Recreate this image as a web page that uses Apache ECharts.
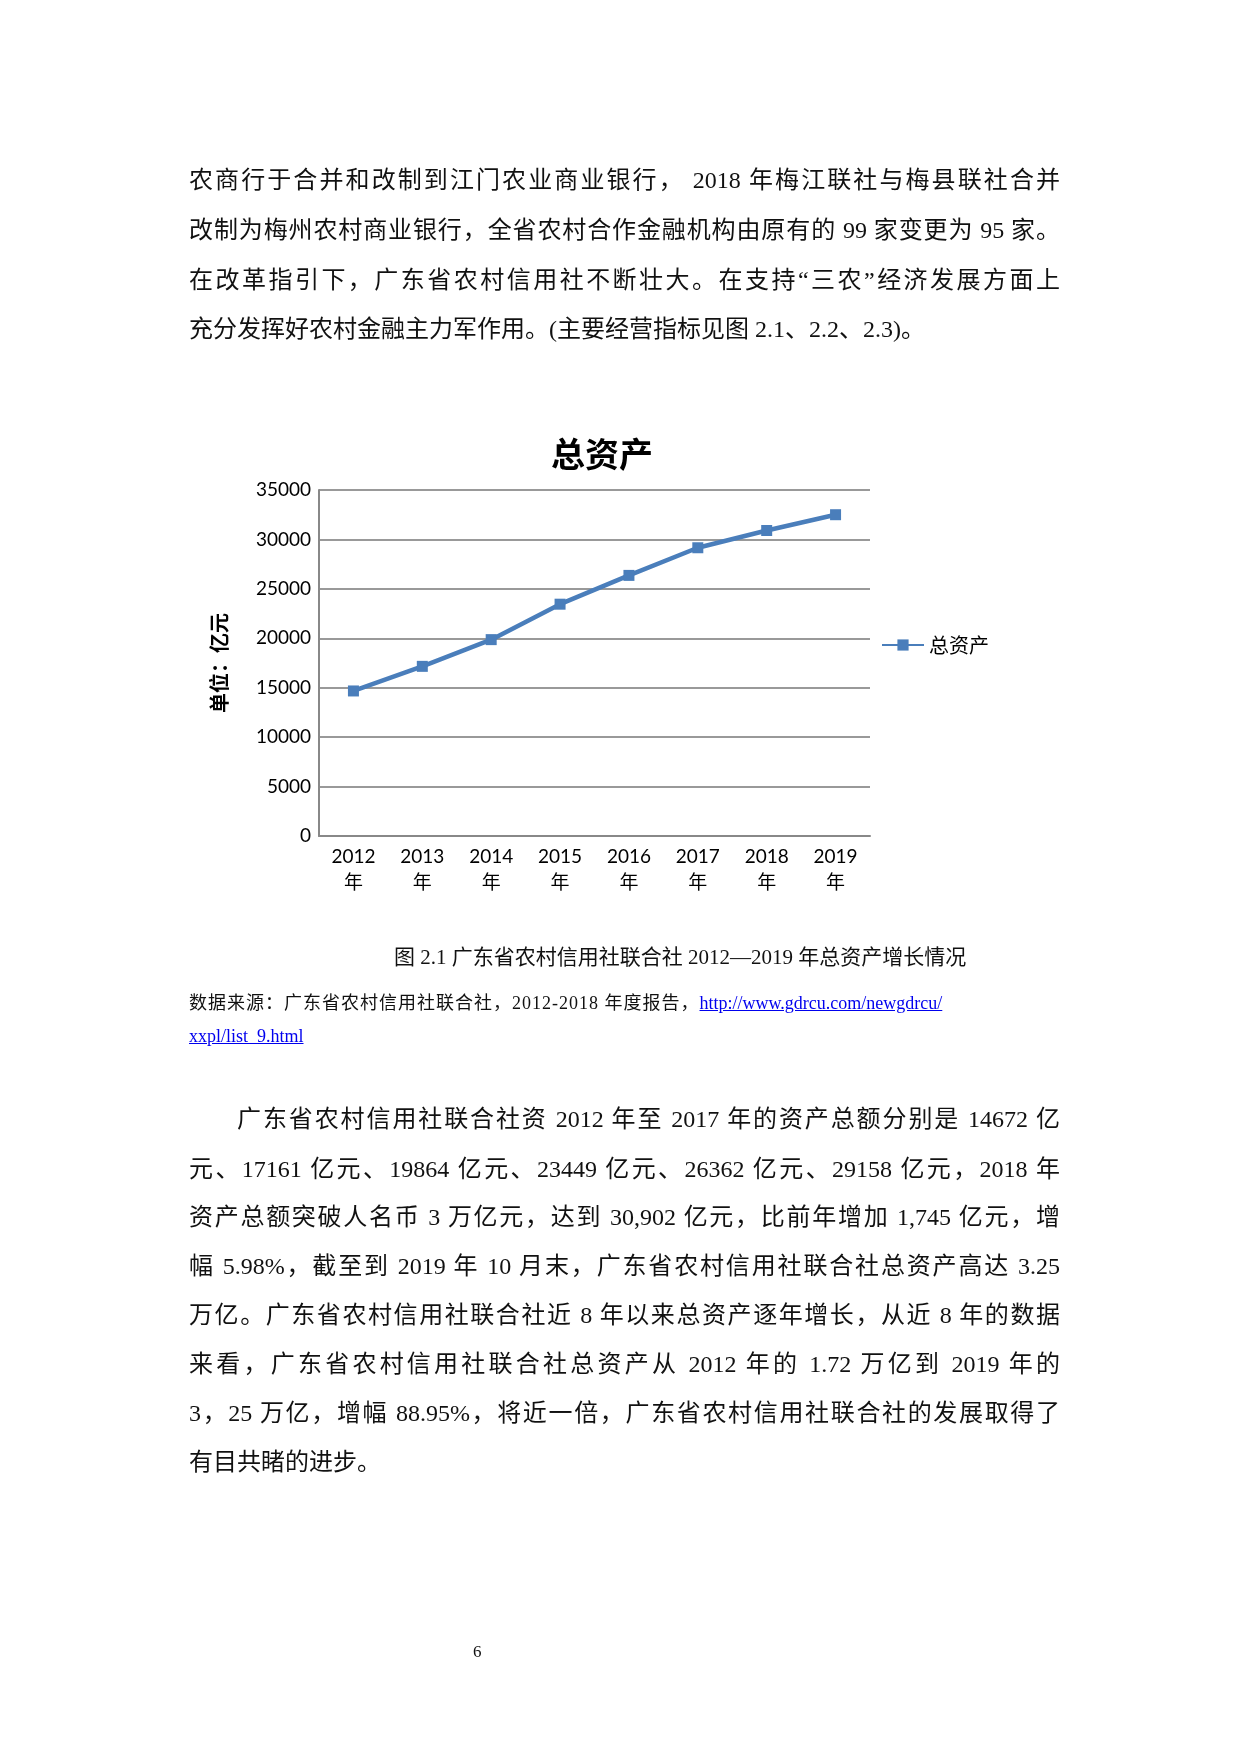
<!DOCTYPE html>
<html><head><meta charset="utf-8">
<script src="https://cdn.jsdelivr.net/npm/echarts@6/dist/echarts.min.js"></script>
<style>
body{margin:0;width:1240px;height:1754px;position:relative;background:#fff;font-family:"Liberation Serif","Noto Sans CJK SC",serif;color:#111}
#c{position:absolute;left:0;top:0;width:1240px;height:1754px}
.l{position:absolute;left:189px;width:871px;font-size:24px;line-height:30px;text-align:justify;text-align-last:justify;white-space:nowrap}
.n{text-align-last:left}
.s{position:absolute;font-size:18px;line-height:22px}
a{color:#00e;text-decoration:underline}
</style></head><body>
<div id="c"></div>
<div class="l" style="top:165px">农商行于合并和改制到江门农业商业银行， 2018 年梅江联社与梅县联社合并</div>
<div class="l" style="top:215px">改制为梅州农村商业银行，全省农村合作金融机构由原有的 99 家变更为 95 家。</div>
<div class="l" style="top:265px">在改革指引下，广东省农村信用社不断壮大。在支持“三农”经济发展方面上</div>
<div class="l n" style="top:314px">充分发挥好农村金融主力军作用。(主要经营指标见图 2.1、2.2、2.3)。</div>
<div class="s" style="left:394px;top:946px;font-size:21px">图 2.1 广东省农村信用社联合社 2012—2019 年总资产增长情况</div>
<div class="s" style="left:189px;top:992px;white-space:nowrap;letter-spacing:1px">数据来源：广东省农村信用社联合社，2012-2018 年度报告，<a style="letter-spacing:0">http://www.gdrcu.com/newgdrcu/</a></div>
<div class="s" style="left:189px;top:1025px"><a>xxpl/list_9.html</a></div>
<div class="l" style="top:1104px;left:237px;width:823px">广东省农村信用社联合社资 2012 年至 2017 年的资产总额分别是 14672 亿</div>
<div class="l" style="top:1154px">元、17161 亿元、19864 亿元、23449 亿元、26362 亿元、29158 亿元，2018 年</div>
<div class="l" style="top:1202px">资产总额突破人名币 3 万亿元，达到 30,902 亿元，比前年增加 1,745 亿元，增</div>
<div class="l" style="top:1251px">幅 5.98%，截至到 2019 年 10 月末，广东省农村信用社联合社总资产高达 3.25</div>
<div class="l" style="top:1300px">万亿。广东省农村信用社联合社近 8 年以来总资产逐年增长，从近 8 年的数据</div>
<div class="l" style="top:1349px">来看，广东省农村信用社联合社总资产从 2012 年的 1.72 万亿到 2019 年的</div>
<div class="l" style="top:1398px">3，25 万亿，增幅 88.95%，将近一倍，广东省农村信用社联合社的发展取得了</div>
<div class="l n" style="top:1447px">有目共睹的进步。</div>
<div class="s" style="left:473px;top:1641px;font-size:17px">6</div>
<script>
const categories=["2012\n年","2013\n年","2014\n年","2015\n年","2016\n年","2017\n年","2018\n年","2019\n年"];
const totalAssets=[14672,17161,19864,23449,26362,29158,30902,32500];
const seriesName="总资产";
const ch=echarts.init(document.getElementById('c'));
const f='"Lato","Noto Sans CJK SC",sans-serif';
ch.setOption({
 animation:false,
 title:{text:"总资产",left:597,top:432,textAlign:'center',textStyle:{fontSize:34,fontWeight:'bold',color:'#000',fontFamily:'"Noto Sans CJK SC"'}},
 legend:{data:[seriesName],left:876,top:630,itemWidth:42,itemHeight:14,itemGap:6,textStyle:{fontSize:20,color:'#000',fontFamily:'"Noto Sans CJK SC"'}},
 grid:{left:319,right:370,top:490,bottom:918},
 xAxis:{type:'category',data:categories,boundaryGap:true,axisLine:{lineStyle:{color:'#888',width:2}},axisTick:{show:false},
  axisLabel:{fontSize:19,color:'#000',lineHeight:26,fontFamily:f,margin:8}},
 yAxis:{type:'value',min:0,max:35000,interval:5000,name:'单位：亿元',nameLocation:'middle',nameGap:90,nameRotate:90,
  nameTextStyle:{fontSize:20,fontWeight:'bold',color:'#000',fontFamily:'"Noto Sans CJK SC"'},
  axisLine:{show:true,lineStyle:{color:'#888',width:2}},axisTick:{show:false},
  splitLine:{lineStyle:{color:'#999',width:2}},axisLabel:{fontSize:19,color:'#000',fontFamily:f,margin:8,formatter:v=>String(v)}},
 series:[{name:seriesName,type:'line',data:totalAssets,symbol:'rect',symbolSize:11,
  lineStyle:{color:'#4a7ebb',width:4.5},itemStyle:{color:'#4a7ebb'}}]
});
</script>
</body></html>
